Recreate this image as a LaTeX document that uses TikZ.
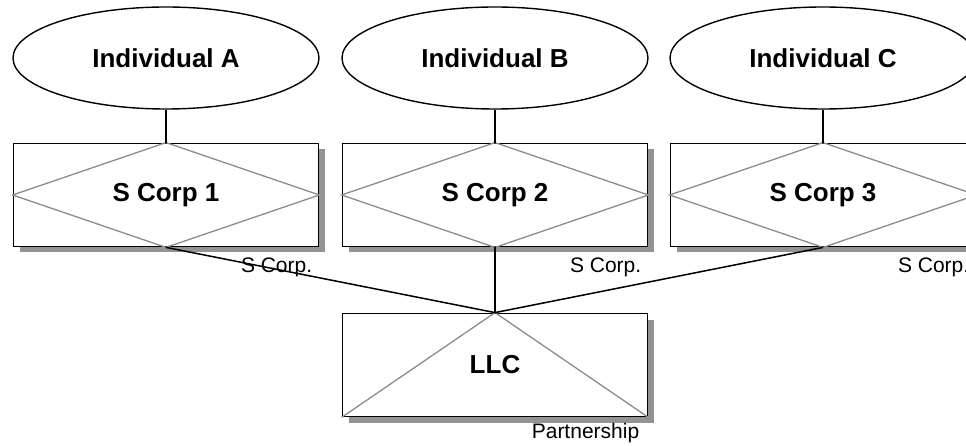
\documentclass[tikz,border=0pt]{standalone}
\usepackage{fontspec}
\setmainfont{Liberation Sans}
\usepackage{tikz}
\usetikzlibrary{shapes.geometric}
\usetikzlibrary{shadows}
\definecolor{org-line}{HTML}{000000}
\definecolor{org-cross}{HTML}{8C8C8C}
\definecolor{org-shadow}{HTML}{808080}

\begin{document}
\begin{tikzpicture}[
    x=1pt, y=-1pt,
    owner/.style={ellipse, draw=org-line, line width=1.4pt, fill=white, minimum width=306pt, minimum height=102pt, inner sep=0pt, font=\fontsize{26}{31}\selectfont\bfseries},
    entity/.style={rectangle, draw=org-line, line width=1.8pt, fill=white, minimum width=305pt, minimum height=103pt, inner sep=0pt, drop shadow={shadow xshift=6pt, shadow yshift=-6pt, fill=org-shadow, opacity=0.85}},
    boxname/.style={font=\fontsize{26}{31}\selectfont\bfseries},
    cross/.style={draw=org-cross, line width=1.3pt},
    conn/.style={draw=org-line, line width=1.5pt},
    tag/.style={font=\fontsize{21}{25}\selectfont, inner sep=0pt, anchor=base east}
]
\useasboundingbox (0,0) rectangle (966,446);
\clip (0,0) rectangle (966,446);

% =========================================================================
% OWNERS (individuals, top row)
% =========================================================================
\node[owner] (indA) at (166, 58) {Individual A};
\node[owner] (indB) at (495, 58) {Individual B};
\node[owner] (indC) at (823, 58) {Individual C};


% =========================================================================
% S CORPORATIONS (middle row)
% =========================================================================
\node[entity] (scorp1) at (166, 195) {};
\node[entity] (scorp2) at (495, 195) {};
\node[entity] (scorp3) at (823, 195) {};

\foreach \sc/\num in {scorp1/1, scorp2/2, scorp3/3} {
    \draw[cross] (\sc.north) -- (\sc.east) -- (\sc.south) -- (\sc.west) -- cycle;
    \node[boxname] (\sc-name) at (\sc) {S Corp \num};
    \node[tag] (\sc-tag) at ([xshift=-7pt, yshift=-25pt]\sc.south east) {S Corp.};
}

\draw[conn] (indA) -- (scorp1.north);
\draw[conn] (indB) -- (scorp2.north);
\draw[conn] (indC) -- (scorp3.north);


% =========================================================================
% LLC (partnership, bottom)
% =========================================================================
\node[entity] (llc) at (495, 365) {};
\draw[cross] (llc.south west) -- (llc.north) -- (llc.south east);
\node[boxname] (llc-name) at (llc) {LLC};
\node[tag] (llc-tag) at ([xshift=-9pt, yshift=-21pt]llc.south east) {Partnership};

\draw[conn] (scorp1.south) -- (llc.north);
\draw[conn] (scorp2.south) -- (llc.north);
\draw[conn] (scorp3.south) -- (llc.north);

\end{tikzpicture}
\end{document}
